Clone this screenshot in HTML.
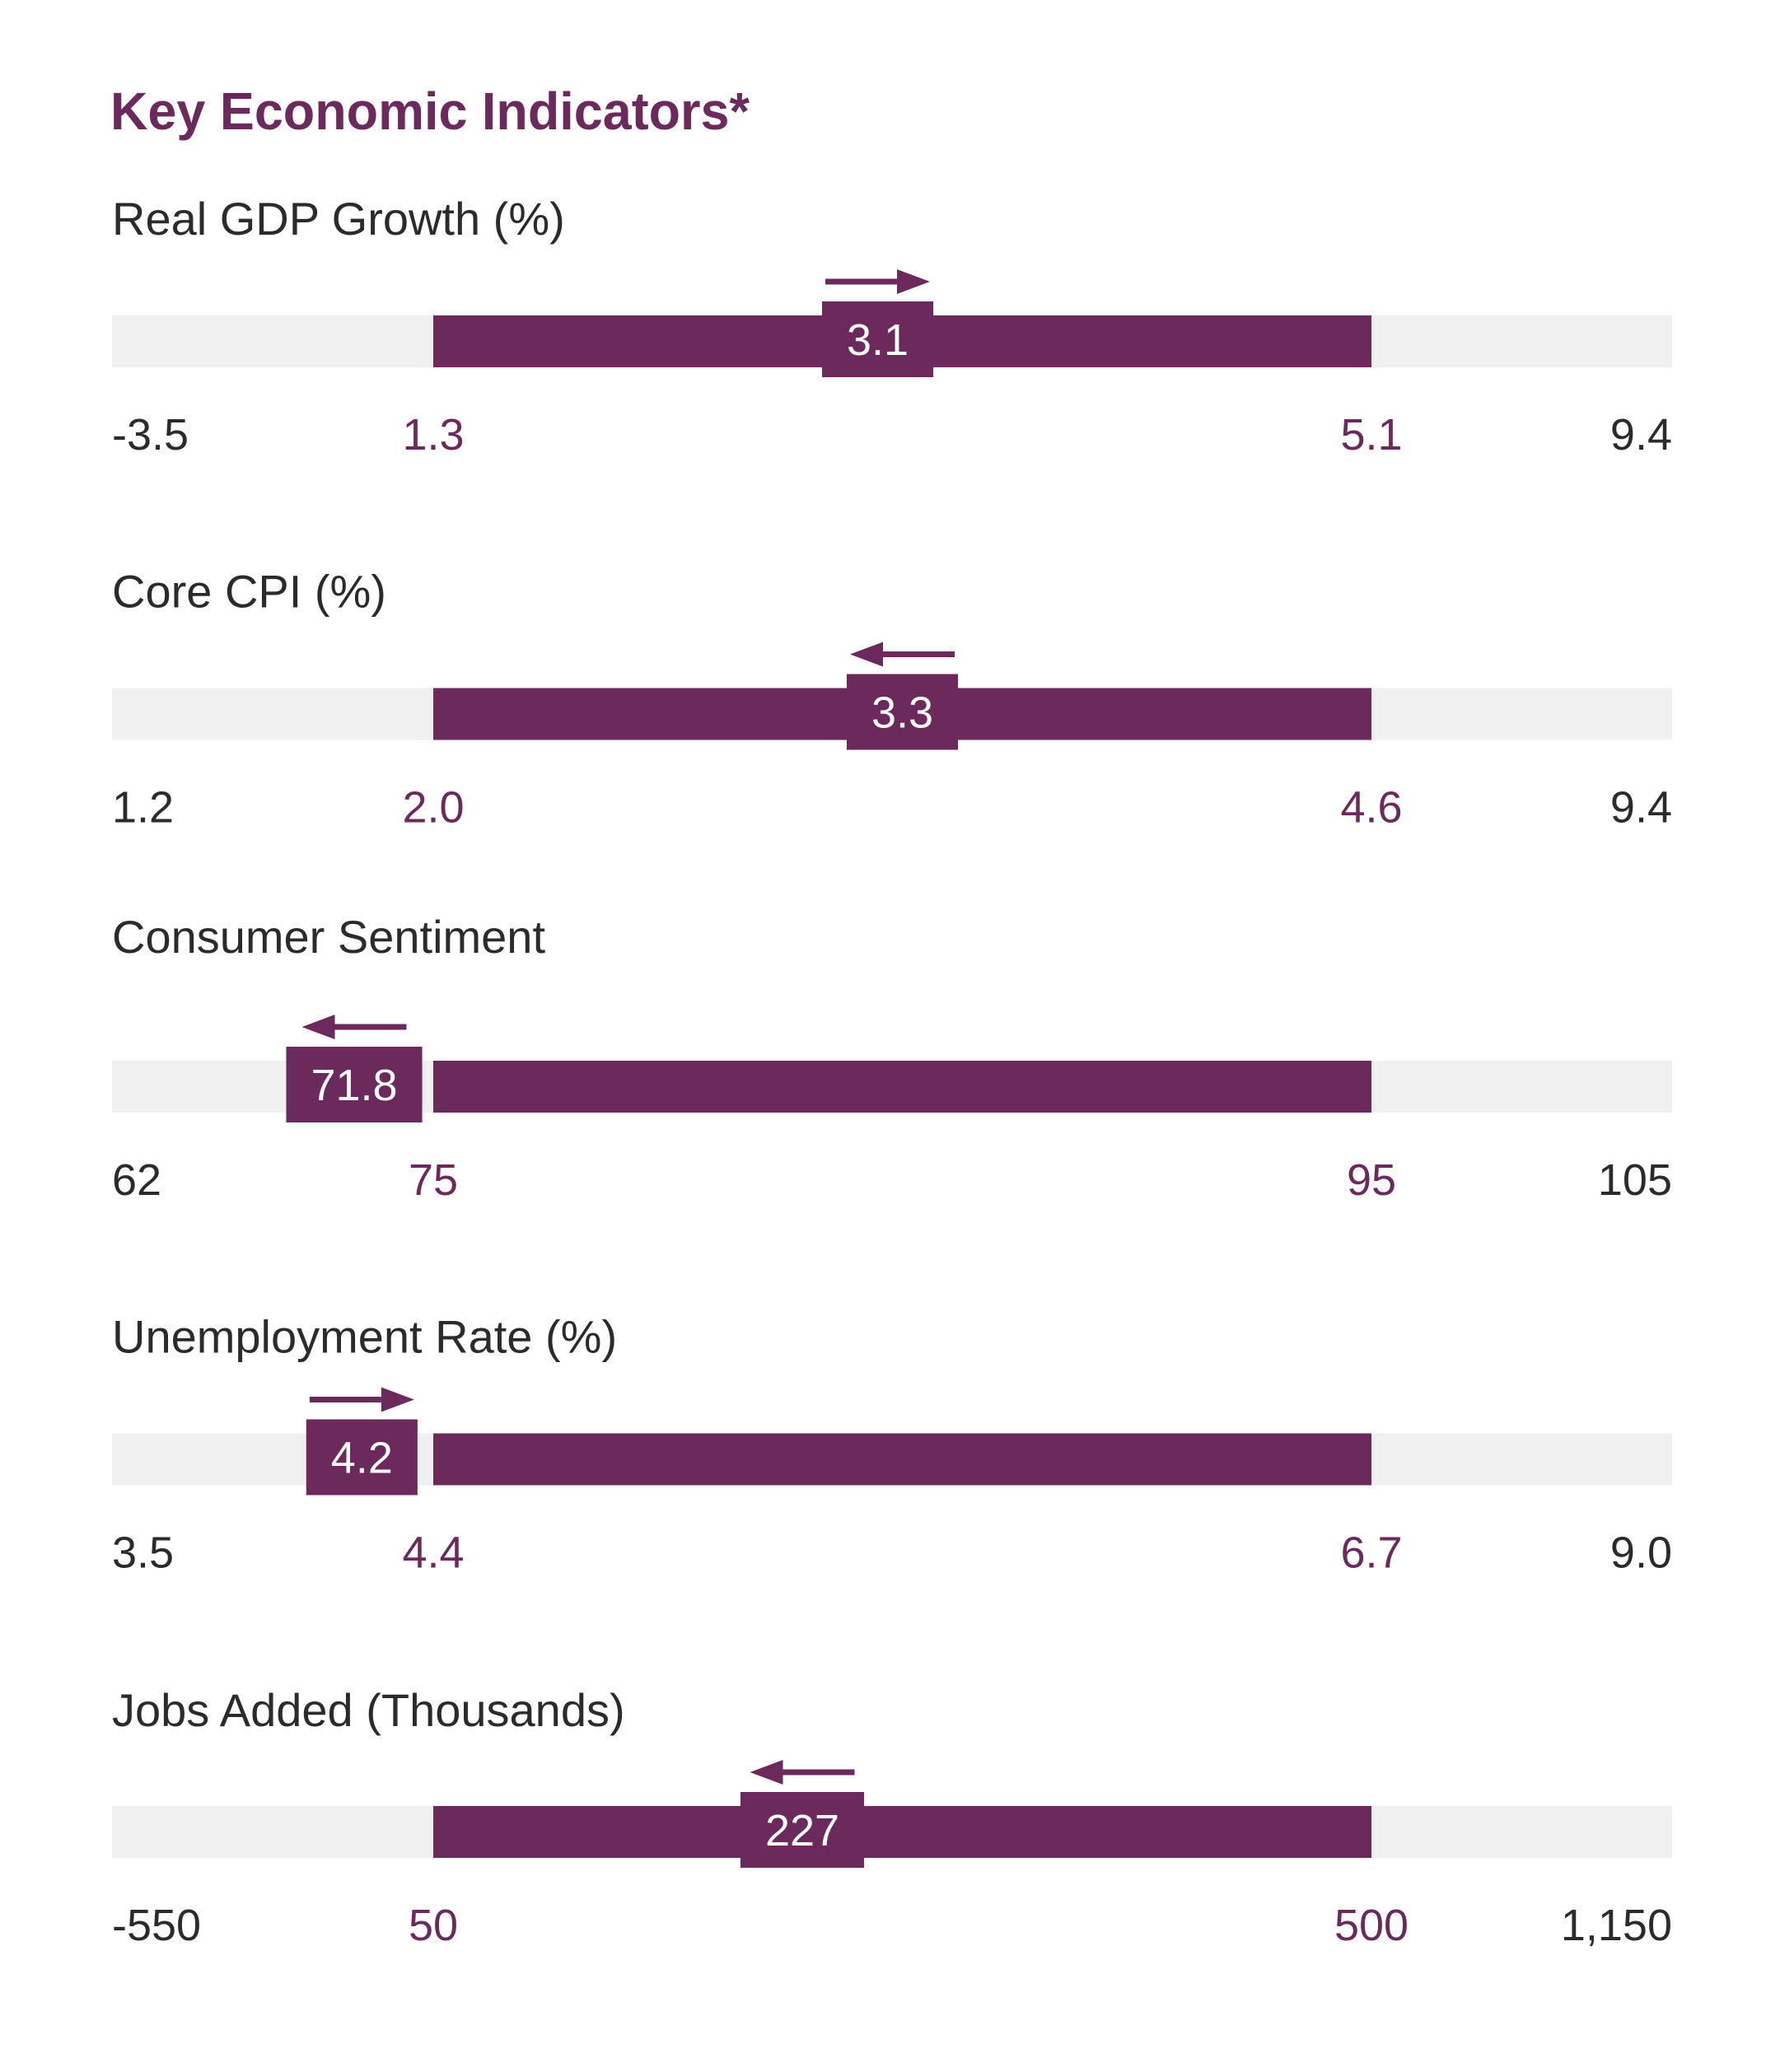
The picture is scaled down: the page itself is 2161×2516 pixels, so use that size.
<!DOCTYPE html>
<html><head><meta charset="utf-8">
<style>
html,body{margin:0;padding:0;background:#fff;}
svg{display:block;}
text{font-family:"Liberation Sans",sans-serif;}
</style></head>
<body>
<svg id="chart" width="2161" height="2516" viewBox="0 0 2161 2516" xmlns="http://www.w3.org/2000/svg">
<rect width="2161" height="2516" fill="#fff"/>
<text x="134" y="157" font-size="64" font-weight="bold" fill="#6b2a5b" textLength="776" lengthAdjust="spacingAndGlyphs">Key Economic Indicators*</text>
<g id="rows"></g>
</svg>
<script>
const labels = ["Real GDP Growth (%)", "Core CPI (%)", "Consumer Sentiment", "Unemployment Rate (%)", "Jobs Added (Thousands)"];
const mins = [-3.5, 1.2, 62, 3.5, -550];
const lows = [1.3, 2.0, 75, 4.4, 50];
const highs = [5.1, 4.6, 95, 6.7, 500];
const maxs = [9.4, 9.4, 105, 9.0, 1150];
const values = [3.1, 3.3, 71.8, 4.2, 227];
const valueLabels = ["3.1", "3.3", "71.8", "4.2", "227"];
const minLabels = ["-3.5", "1.2", "62", "3.5", "-550"];
const lowLabels = ["1.3", "2.0", "75", "4.4", "50"];
const highLabels = ["5.1", "4.6", "95", "6.7", "500"];
const maxLabels = ["9.4", "9.4", "105", "9.0", "1,150"];
const directions = ["up", "down", "down", "up", "down"];

const NS = "http://www.w3.org/2000/svg";
const PURPLE = "#6b2a5b", TRACK = "#eff0ef", DARK = "#2b2b2b";
const X0 = 136, XL = 526, XH = 1665, X1 = 2030;
const rowTop = i => 383 + 452.5 * i;
const labelOffset = [-98, -98, -131, -98, -97];
function xScale(i, v) {
  if (v <= lows[i]) return X0 + (v - mins[i]) / (lows[i] - mins[i]) * (XL - X0);
  if (v <= highs[i]) return XL + (v - lows[i]) / (highs[i] - lows[i]) * (XH - XL);
  return XH + (v - highs[i]) / (maxs[i] - highs[i]) * (X1 - XH);
}
function mk(tag, attrs, parent) {
  const el = document.createElementNS(NS, tag);
  for (const k in attrs) el.setAttribute(k, attrs[k]);
  parent.appendChild(el);
  return el;
}
const root = document.getElementById("rows");
labels.forEach((lab, i) => {
  const top = rowTop(i);
  const g = mk("g", {}, root);
  
  
  const t = mk("text", {x: 136, y: top + labelOffset[i], "font-size": 56, fill: DARK}, g);
  t.textContent = lab;
  
  
  const tr = mk("rect", {x: xScale(i, mins[i]), y: top, width: xScale(i, maxs[i]) - xScale(i, mins[i]), height: 63, fill: TRACK}, g);
  
  
  const rb = mk("rect", {x: xScale(i, lows[i]), y: top, width: xScale(i, highs[i]) - xScale(i, lows[i]), height: 63, fill: PURPLE}, g);
  
  
  const ty = top + 163;
  const tks = [
    [xScale(i, mins[i]), minLabels[i], "start", DARK, 'min-tick-label'],
    [xScale(i, lows[i]), lowLabels[i], "middle", PURPLE, 'low-tick-label'],
    [xScale(i, highs[i]), highLabels[i], "middle", PURPLE, 'high-tick-label'],
    [xScale(i, maxs[i]), maxLabels[i], "end", DARK, 'max-tick-label']
  ];
  tks.forEach(k => {
    const tt = mk("text", {x: k[0], y: ty, "font-size": 54, fill: k[3], "text-anchor": k[2]}, g);
    tt.textContent = k[1];
    
    
  });
  const cx = xScale(i, values[i]);
  const vt = document.createElementNS(NS, "text");
  vt.setAttribute("font-size", 54);
  vt.textContent = valueLabels[i];
  g.appendChild(vt);
  const tw = vt.getComputedTextLength();
  g.removeChild(vt);
  const bw = tw + 60;
  const box = mk("rect", {x: cx - bw / 2, y: top - 17, width: bw, height: 92, fill: PURPLE}, g);
  
  
  const v2 = mk("text", {x: cx, y: top + 48, "font-size": 54, fill: "#fff", "text-anchor": "middle"}, g);
  v2.textContent = valueLabels[i];
  
  
  const ay = top - 41, half = 63.5;
  const a = cx - half, b = cx + half;
  let pts, line;
  if (directions[i] === "up") {
    line = [a, b - 40];
    pts = `${b - 40},${ay - 15} ${b},${ay} ${b - 40},${ay + 15}`;
  } else {
    line = [a + 40, b];
    pts = `${a + 40},${ay - 15} ${a},${ay} ${a + 40},${ay + 15}`;
  }
  const ag = mk("g", {}, g);
  
  
  mk("rect", {x: line[0], y: ay - 3.5, width: line[1] - line[0], height: 7, fill: PURPLE}, ag);
  mk("polygon", {points: pts, fill: PURPLE}, ag);
});
</script>
</body></html>
